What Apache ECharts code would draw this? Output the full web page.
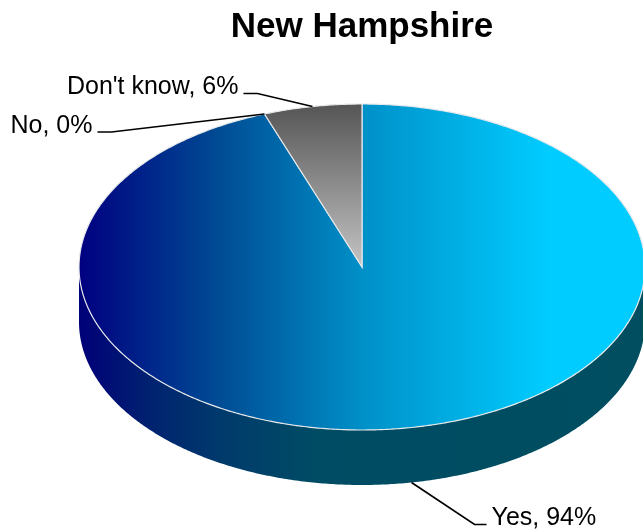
<!DOCTYPE html>
<html>
<head>
<meta charset="utf-8">
<style>html,body{margin:0;padding:0;background:#fff}#c{width:643px;height:531px}</style>
<script src="https://cdn.jsdelivr.net/npm/echarts@6/dist/echarts.min.js"></script>
</head>
<body>
<div id="c"></div>
<script>
// ---- data ----
const categories = ["Yes", "No", "Don't know"];
const percentages = [94.4, 0, 5.6];

// ---- layout & style ----
const titleText = "New Hampshire";
const FONT = "'Liberation Sans', Arial, sans-serif";
const CX = 362, CY = 267, RX = 283, RY = 163, DEPTH = 55;
const blueStops = [[0, "#000080"], [0.25, "#004c94"], [0.5, "#0090c8"], [0.83, "#00ccff"], [1, "#00ccff"]];
const topGradients = [blueStops, blueStops, [[0, "#555555"], [1, "#c4c4c4"]]];
const sideStops = [[0, "#000078"], [0.125, "#002270"], [0.25, "#003a6c"], [0.42, "#004c64"], [1, "#004e60"]];
// elbow offsets from the slice anchor to label knee and label end
const labelLayout = [
  { dx: 63, dy: 42, run: 12, side: 1 },
  { dx: -153, dy: 18, run: -14, side: -1 },
  { dx: -55, dy: -13, run: -14, side: -1 }
];

const total = percentages.reduce((a, b) => a + b, 0);
let cum = 0;
const slices = percentages.map((v, i) => {
  const start = cum / total * 360;
  cum += v;
  return { name: categories[i], value: v, start, end: cum / total * 360 };
});
const pt = (deg, dy) => {
  const a = deg * Math.PI / 180;
  return [CX + RX * Math.sin(a), CY - RY * Math.cos(a) + (dy || 0)];
};
const arc = (a, b, dy) => {
  const out = [];
  const n = Math.max(1, Math.ceil(Math.abs(b - a) / 0.5));
  for (let k = 0; k <= n; k++) out.push(pt(a + (b - a) * k / n, dy));
  return out;
};
const grad = (x0, y0, x1, y1, stops) => new echarts.graphic.LinearGradient(
  x0, y0, x1, y1, stops.map(s => ({ offset: s[0], color: s[1] })), true);

function renderSide(params) {
  const s = slices[params.dataIndex];
  const a = Math.max(s.start, 90), b = Math.min(s.end, 270);
  if (b <= a) return { type: "group", children: [] };
  return {
    type: "polygon",
    shape: { points: arc(a, b, 0).concat(arc(b, a, DEPTH)) },
    style: { fill: grad(CX - RX, 0, CX + RX, 0, sideStops), stroke: null }
  };
}
function renderTop(params) {
  const i = params.dataIndex, s = slices[i];
  if (s.value === 0) return { type: "group", children: [] };
  const fill = s.name === "Don't know"
    ? grad(0, CY - RY, 0, CY, topGradients[i])
    : grad(CX - RX, 0, CX + RX, 0, topGradients[i]);
  return {
    type: "polygon",
    shape: { points: [[CX, CY]].concat(arc(s.start, s.end, 0)) },
    style: { fill, stroke: "#e6e8ea", lineWidth: 1.2 }
  };
}
function renderLabel(params) {
  const i = params.dataIndex, s = slices[i], L = labelLayout[i];
  const mid = (s.start + s.end) / 2;
  const p0 = pt(mid, mid > 90 && mid < 270 ? DEPTH : 0);
  const p1 = [p0[0] + L.dx, p0[1] + L.dy];
  const p2 = [p1[0] + L.run, p1[1]];
  return {
    type: "group",
    children: [
      { type: "polyline", shape: { points: [p0, p1, p2] },
        style: { fill: null, stroke: "#000", lineWidth: 1.7 } },
      { type: "text", x: p2[0] + L.side * 5, y: p2[1] - 6,
        style: { text: s.name + ", " + Math.round(s.value) + "%", fill: "#000",
          font: "25px " + FONT, align: L.side > 0 ? "left" : "right", verticalAlign: "middle" } }
    ]
  };
}
const chart = echarts.init(document.getElementById("c"), null, { renderer: "canvas" });
const seriesData = slices.map(s => ({ name: s.name, value: s.value }));
chart.setOption({
  animation: false,
  backgroundColor: "#fff",
  title: {
    text: titleText, left: 357, top: 5, textAlign: "center",
    textStyle: { fontFamily: FONT, fontWeight: "bold", fontSize: 35, color: "#000" }
  },
  series: [
    { type: "custom", name: "side", coordinateSystem: "none", silent: true, data: seriesData, renderItem: renderSide, z: 1 },
    { type: "custom", name: "top", coordinateSystem: "none", silent: true, data: seriesData, renderItem: renderTop, z: 2 },
    { type: "custom", name: "labels", coordinateSystem: "none", silent: true, data: seriesData, renderItem: renderLabel, z: 3 }
  ]
});
</script>
</body>
</html>
